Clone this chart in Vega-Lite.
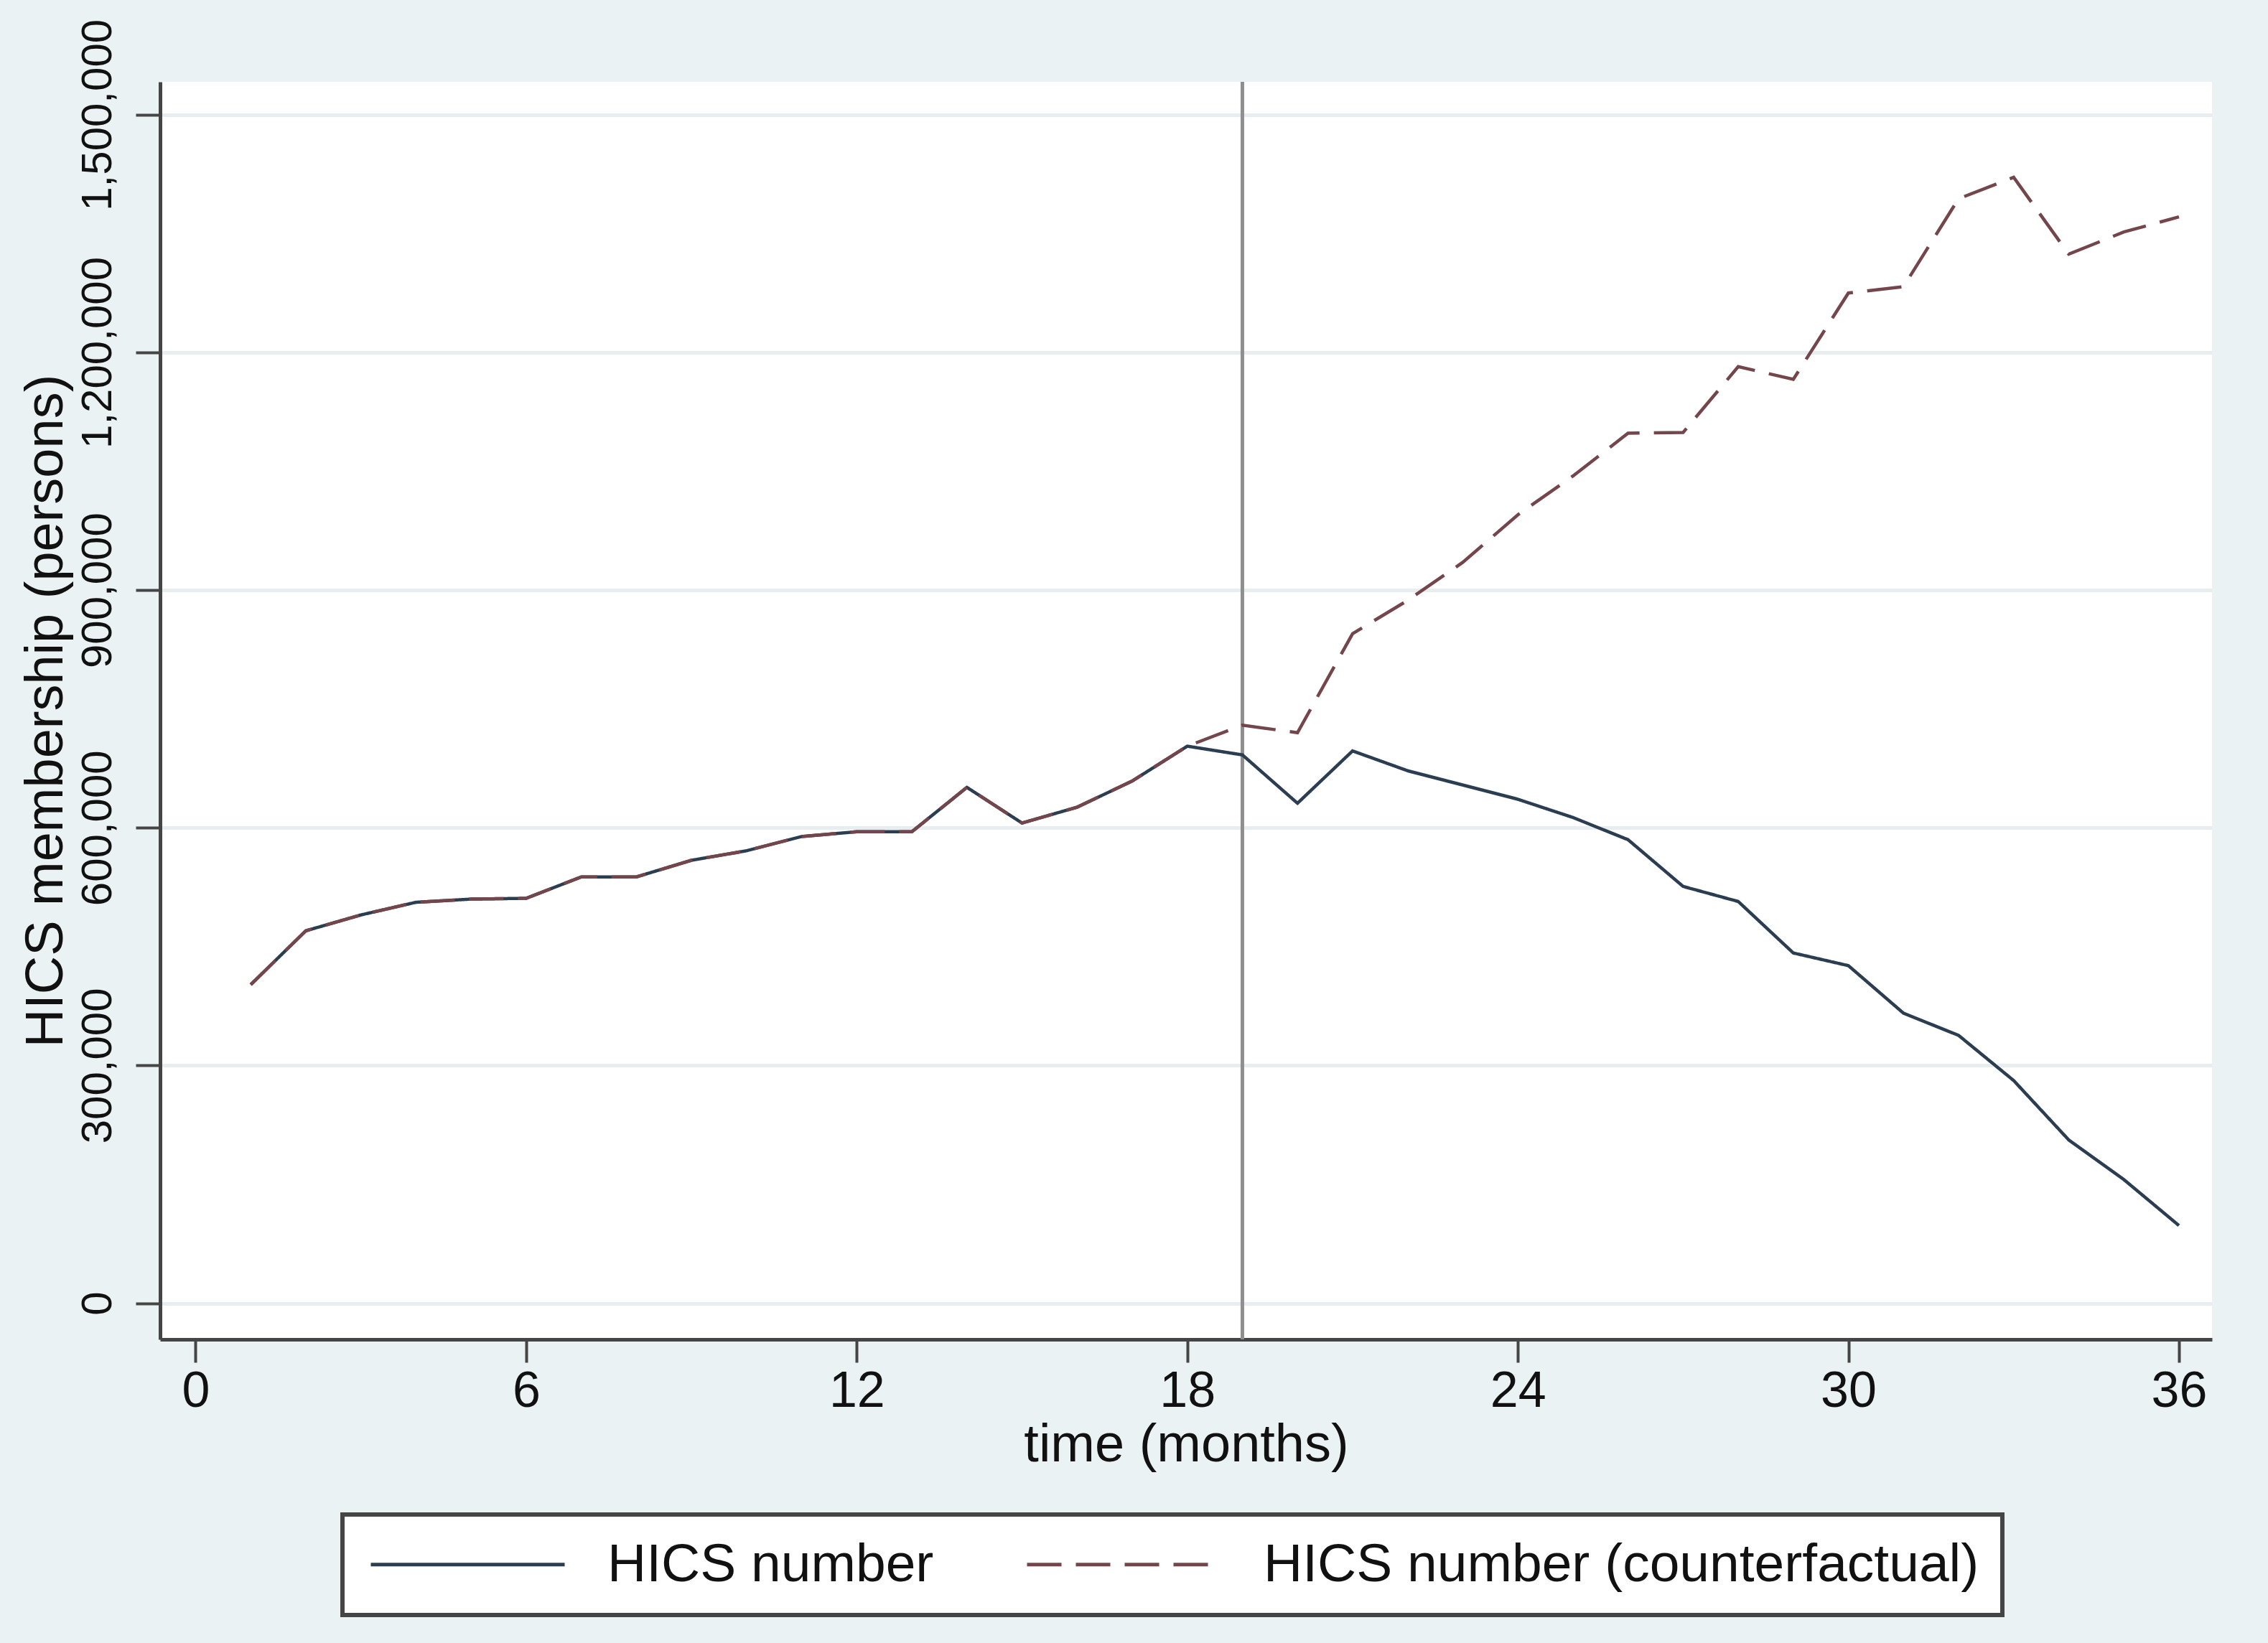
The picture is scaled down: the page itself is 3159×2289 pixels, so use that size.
{
  "$schema": "https://vega.github.io/schema/vega-lite/v6.json",
  "autosize": "none",
  "width": 2858,
  "height": 1752,
  "padding": {"left": 223, "top": 114, "right": 78, "bottom": 423},
  "background": "#EAF2F3",
  "config": {
    "view": {"fill": "#FFFFFF", "stroke": null},
    "font": "Liberation Sans",
    "axis": {
      "domainColor": "#454545",
      "domainWidth": 5,
      "tickColor": "#454545",
      "tickWidth": 4,
      "labelFont": "Liberation Sans",
      "titleFont": "Liberation Sans",
      "labelColor": "#111111",
      "titleColor": "#111111",
      "titleFontWeight": "normal",
      "labelFlush": false,
      "labelOverlap": false,
      "labelLimit": 1000
    },
    "legend": {
      "orient": "none",
      "legendX": 254,
      "legendY": 1996,
      "direction": "horizontal",
      "strokeColor": "#454545",
      "strokeWidth": 6,
      "fillColor": "#FFFFFF",
      "padding": 32,
      "labelFontSize": 75,
      "labelFont": "Liberation Sans",
      "labelColor": "#111111",
      "symbolSize": 400,
      "symbolStrokeWidth": 5,
      "symbolOffset": 105,
      "labelOffset": 157,
      "columnPadding": 119,
      "labelLimit": 2000
    }
  },
  "datasets": {
    "ref": [{"month": 19}],
    "series": [
      {"month": 1, "series": "HICS number", "members": 402000},
      {"month": 2, "series": "HICS number", "members": 470000},
      {"month": 3, "series": "HICS number", "members": 490000},
      {"month": 4, "series": "HICS number", "members": 506000},
      {"month": 5, "series": "HICS number", "members": 510000},
      {"month": 6, "series": "HICS number", "members": 511000},
      {"month": 7, "series": "HICS number", "members": 538000},
      {"month": 8, "series": "HICS number", "members": 538000},
      {"month": 9, "series": "HICS number", "members": 559000},
      {"month": 10, "series": "HICS number", "members": 571000},
      {"month": 11, "series": "HICS number", "members": 589000},
      {"month": 12, "series": "HICS number", "members": 595000},
      {"month": 13, "series": "HICS number", "members": 595000},
      {"month": 14, "series": "HICS number", "members": 651000},
      {"month": 15, "series": "HICS number", "members": 606000},
      {"month": 16, "series": "HICS number", "members": 626000},
      {"month": 17, "series": "HICS number", "members": 659000},
      {"month": 18, "series": "HICS number", "members": 703000},
      {"month": 19, "series": "HICS number", "members": 692000},
      {"month": 20, "series": "HICS number", "members": 631000},
      {"month": 21, "series": "HICS number", "members": 697000},
      {"month": 22, "series": "HICS number", "members": 672000},
      {"month": 23, "series": "HICS number", "members": 654000},
      {"month": 24, "series": "HICS number", "members": 636000},
      {"month": 25, "series": "HICS number", "members": 613000},
      {"month": 26, "series": "HICS number", "members": 585000},
      {"month": 27, "series": "HICS number", "members": 526000},
      {"month": 28, "series": "HICS number", "members": 507000},
      {"month": 29, "series": "HICS number", "members": 442000},
      {"month": 30, "series": "HICS number", "members": 426000},
      {"month": 31, "series": "HICS number", "members": 366000},
      {"month": 32, "series": "HICS number", "members": 338000},
      {"month": 33, "series": "HICS number", "members": 281000},
      {"month": 34, "series": "HICS number", "members": 206000},
      {"month": 35, "series": "HICS number", "members": 156000},
      {"month": 36, "series": "HICS number", "members": 98000},
      {"month": 1, "series": "HICS number (counterfactual)", "members": 402000},
      {"month": 2, "series": "HICS number (counterfactual)", "members": 470000},
      {"month": 3, "series": "HICS number (counterfactual)", "members": 490000},
      {"month": 4, "series": "HICS number (counterfactual)", "members": 506000},
      {"month": 5, "series": "HICS number (counterfactual)", "members": 510000},
      {"month": 6, "series": "HICS number (counterfactual)", "members": 511000},
      {"month": 7, "series": "HICS number (counterfactual)", "members": 538000},
      {"month": 8, "series": "HICS number (counterfactual)", "members": 538000},
      {"month": 9, "series": "HICS number (counterfactual)", "members": 559000},
      {"month": 10, "series": "HICS number (counterfactual)", "members": 571000},
      {"month": 11, "series": "HICS number (counterfactual)", "members": 589000},
      {"month": 12, "series": "HICS number (counterfactual)", "members": 595000},
      {"month": 13, "series": "HICS number (counterfactual)", "members": 595000},
      {"month": 14, "series": "HICS number (counterfactual)", "members": 651000},
      {"month": 15, "series": "HICS number (counterfactual)", "members": 606000},
      {"month": 16, "series": "HICS number (counterfactual)", "members": 626000},
      {"month": 17, "series": "HICS number (counterfactual)", "members": 659000},
      {"month": 18, "series": "HICS number (counterfactual)", "members": 703000},
      {"month": 19, "series": "HICS number (counterfactual)", "members": 729500},
      {"month": 20, "series": "HICS number (counterfactual)", "members": 720000},
      {"month": 21, "series": "HICS number (counterfactual)", "members": 845000},
      {"month": 22, "series": "HICS number (counterfactual)", "members": 887000},
      {"month": 23, "series": "HICS number (counterfactual)", "members": 935000},
      {"month": 24, "series": "HICS number (counterfactual)", "members": 995000},
      {"month": 25, "series": "HICS number (counterfactual)", "members": 1044000},
      {"month": 26, "series": "HICS number (counterfactual)", "members": 1098000},
      {"month": 27, "series": "HICS number (counterfactual)", "members": 1099000},
      {"month": 28, "series": "HICS number (counterfactual)", "members": 1182000},
      {"month": 29, "series": "HICS number (counterfactual)", "members": 1166000},
      {"month": 30, "series": "HICS number (counterfactual)", "members": 1275000},
      {"month": 31, "series": "HICS number (counterfactual)", "members": 1283000},
      {"month": 32, "series": "HICS number (counterfactual)", "members": 1394000},
      {"month": 33, "series": "HICS number (counterfactual)", "members": 1421000},
      {"month": 34, "series": "HICS number (counterfactual)", "members": 1324000},
      {"month": 35, "series": "HICS number (counterfactual)", "members": 1352000},
      {"month": 36, "series": "HICS number (counterfactual)", "members": 1371000}
    ]
  },
  "layer": [
    {
      "data": {"name": "ref"},
      "mark": {"type": "rule", "color": "#8F8F8F", "strokeWidth": 5},
      "encoding": {
        "x": {"field": "month", "type": "quantitative", "scale": {"domain": [-0.645, 36.6], "nice": false, "zero": false}}
      }
    },
    {
      "data": {"name": "series"},
      "mark": {"type": "line", "strokeWidth": 4.5},
      "encoding": {
        "x": {
          "field": "month",
          "type": "quantitative",
          "scale": {"domain": [-0.645, 36.6], "nice": false, "zero": false},
          "axis": {
            "values": [0, 6, 12, 18, 24, 30, 36],
            "format": "d",
            "tickSize": 32,
            "labelFontSize": 70,
            "labelPadding": 6,
            "title": "time (months)",
            "titleFontSize": 74,
            "titlePadding": 4,
            "grid": false
          }
        },
        "y": {
          "field": "members",
          "type": "quantitative",
          "scale": {"domain": [-45700, 1541500], "nice": false, "zero": false},
          "axis": {
            "values": [0, 300000, 600000, 900000, 1200000, 1500000],
            "format": ",d",
            "labelAngle": -90,
            "labelFontSize": 60,
            "tickSize": 34,
            "labelPadding": 22,
            "grid": true,
            "gridColor": "#E8EEF0",
            "gridWidth": 5,
            "title": "HICS membership (persons)",
            "titleFontSize": 74,
            "titlePadding": 4
          }
        },
        "color": {
          "field": "series",
          "type": "nominal",
          "scale": {"domain": ["HICS number", "HICS number (counterfactual)"], "range": ["#2B3D50", "#74454B"]},
          "legend": {"title": null, "symbolType": "M-13.5,0H13.5"}
        },
        "strokeDash": {
          "field": "series",
          "type": "nominal",
          "scale": {"domain": ["HICS number", "HICS number (counterfactual)"], "range": [[1, 0], [48, 20]]},
          "legend": {"title": null, "symbolType": "M-13.5,0H13.5"}
        }
      }
    }
  ]
}
